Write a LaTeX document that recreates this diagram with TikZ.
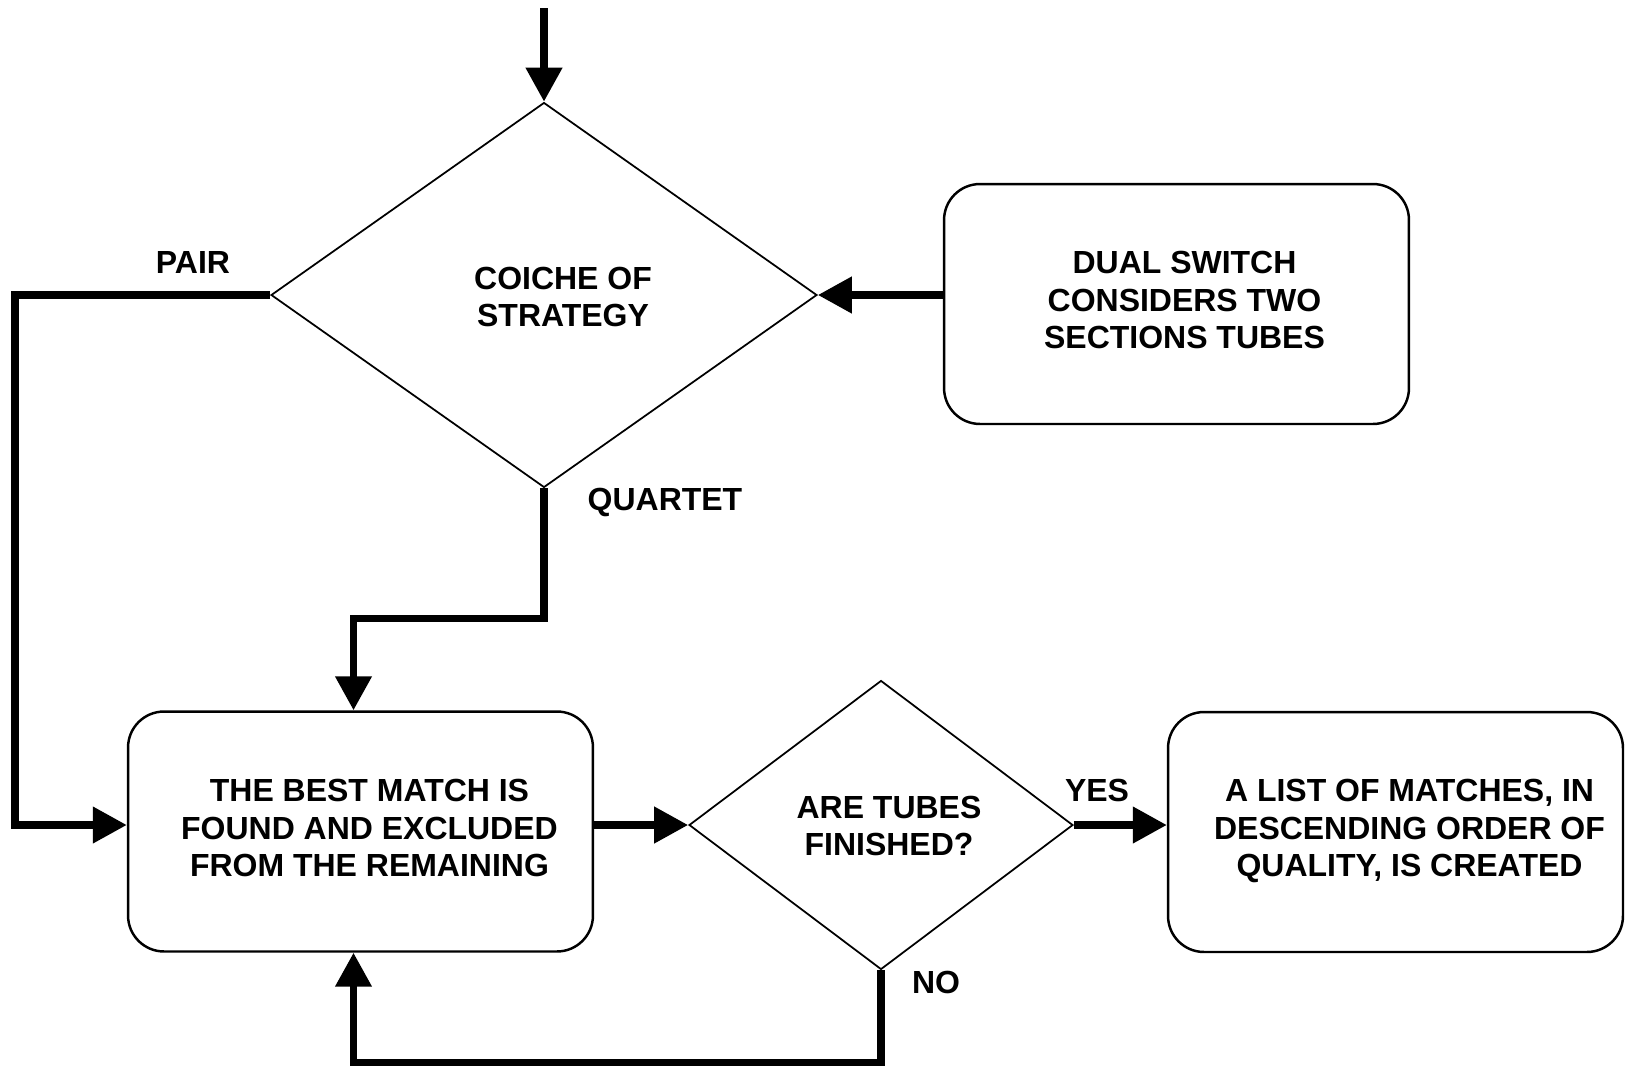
\documentclass[tikz,border=0pt]{standalone}
\usepackage{fontspec}
\setmainfont{Liberation Sans}
\usetikzlibrary{positioning, shapes.geometric, arrows.meta, calc}

\begin{document}
\begin{tikzpicture}[x=0.02cm, y=-0.02cm, >={Triangle[length=0.68cm, width=0.7cm]},
  every node/.style={font=\fontsize{18.2}{21.6}\selectfont\bfseries, align=center},
  box/.style={draw, rectangle, rounded corners=0.72cm, line width=1.4pt, minimum height=4.8cm},
  decision/.style={draw, diamond, line width=1pt, inner sep=0pt},
  flow/.style={->, line width=4.2pt},
  ]
  \useasboundingbox (0,0) rectangle (1625,1065);
  % blocks
  \coordinate (start) at (544,8);
  \node[decision, minimum width=10.92cm, minimum height=7.7cm,
    label={[xshift=0.38cm, yshift=-0.04cm]center:COICHE OF\\STRATEGY}] (choice) at (544,295) {};
  \node[box, minimum width=9.3cm,
    label={[xshift=0.16cm, yshift=0.08cm]center:DUAL SWITCH\\CONSIDERS TWO\\SECTIONS TUBES}] (dual) at (1176.5,304) {};
  \node[box, minimum width=9.3cm,
    label={[xshift=0.18cm, yshift=0.07cm]center:THE BEST MATCH IS\\FOUND AND EXCLUDED\\FROM THE REMAINING}] (best) at (360.5,831.5) {};
  \node[decision, minimum width=7.68cm, minimum height=5.78cm,
    label={[xshift=0.16cm, yshift=-0.02cm]center:ARE TUBES\\FINISHED?}] (check) at (881,825) {};
  \node[box, minimum width=9.1cm,
    label={[xshift=0.28cm, yshift=0.02cm]center:A LIST OF MATCHES, IN\\DESCENDING ORDER OF\\QUALITY, IS CREATED}] (result) at (1395.5,832) {};
  % labels
  \node (pair) at (193,262) {PAIR};
  \node (quartet) at (665,502) {QUARTET};
  \node (yes) at (1097,790) {YES};
  \node (no) at (936,982) {NO};
  % connectors
  \path[flow]
    (start) edge (choice.north)
    (dual.west |- choice.east) edge (choice.east)
    (best.east |- check.west) edge (check.west)
    (check.east) edge (result.west |- check.east);
  \draw[flow] (choice.west) -- ++(-255,0) |- (best.west |- check.west);
  \draw[flow] (choice.south) -- ++(0,130) -| ([xshift=-0.14cm]best.north);
  \draw[flow] (check.south) -- ++(0,92) -| ([xshift=-0.14cm]best.south);
\end{tikzpicture}
\end{document}
